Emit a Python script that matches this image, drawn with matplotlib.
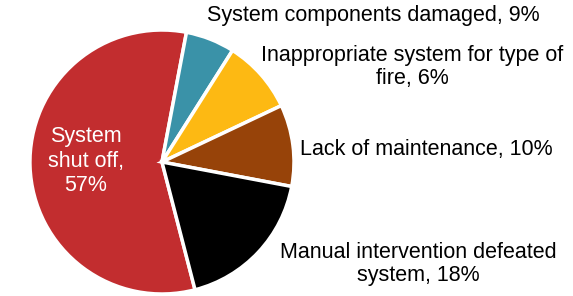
import matplotlib
matplotlib.use("Agg")
import matplotlib.pyplot as plt

categories = ["System shut off", "System components damaged", "Inappropriate system for type of fire",
              "Lack of maintenance", "Manual intervention defeated system"]
values = [57, 6, 9, 10, 18]
label_texts = ["System\nshut off,\n57%", "System components damaged, 9%",
               "Inappropriate system for type of\nfire, 6%", "Lack of maintenance, 10%",
               "Manual intervention defeated\nsystem, 18%"]
colors = ["#C22D2F", "#3A92A8", "#FDB913", "#974309", "#000000"]
explode = [0.055, 0, 0, 0, 0]

plt.rcParams['font.family'] = ['Liberation Sans', 'DejaVu Sans']

fig = plt.figure(figsize=(5.73, 2.96), dpi=100)
ax = fig.add_axes([0, 0, 1, 1])

R = 132
cx, cy = 162, 134
ax.pie(values, colors=colors, explode=explode, startangle=-75.5, counterclock=False,
       center=(cx, cy), radius=R, frame=True,
       wedgeprops=dict(edgecolor='white', linewidth=2.5))
ax.set_xlim(0, 573)
ax.set_ylim(0, 296)
ax.set_aspect('equal')
ax.axis('off')

fs = 15.5
pos = [(86, 135), (373, 280), (412, 229), (426, 147), (418, 32)]
spacing = [1.2, 1.1, 1.15, 1.1, 1.15]
for i, (t, (x, y)) in enumerate(zip(label_texts, pos)):
    ax.text(x, y, t, ha='center', va='center', fontsize=fs,
            color='white' if i == 0 else 'black', linespacing=spacing[i])

fig.savefig("out.png", dpi=100)
